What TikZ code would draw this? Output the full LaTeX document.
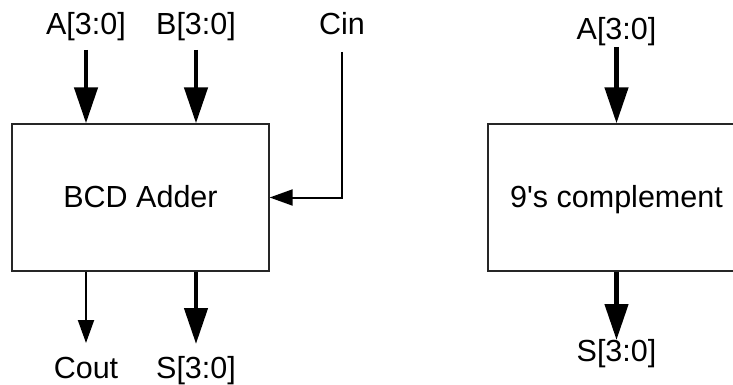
\documentclass[tikz,border=0pt]{standalone}
\usepackage{fontspec}
\setmainfont{Liberation Sans}
\newfontfamily\plainfont{Liberation Sans}
\usetikzlibrary{arrows.meta}
\begin{document}
\begin{tikzpicture}[x=1pt,y=-1pt,
  lbl/.style={inner sep=0pt, font=\plainfont\fontsize{30.5}{34}\selectfont},
  blk/.style={draw=black!85, line width=1.3pt, inner sep=0pt, text height=22pt, text depth=3pt, font=\plainfont\fontsize{30.5}{34}\selectfont},
  bus/.style={line width=4.5pt, -{Triangle[length=36pt,width=23pt]}},
  wire/.style={line width=2pt, -{Triangle[length=23pt,width=16pt]}}]
\useasboundingbox (0,0) rectangle (733,385);
\clip (0,0) rectangle (733,385);
% left block
\node[blk, minimum width=257pt, minimum height=147pt] (bcd) at (140.5,197.5) {BCD Adder};
\node[lbl, anchor=base] (a1) at (86,35) {A[3:0]};
\node[lbl, anchor=base] (b1) at (196,35) {B[3:0]};
\node[lbl, anchor=base] (cin) at (342,35) {Cin};
\node[lbl, anchor=base] (cout) at (86,378) {Cout};
\node[lbl, anchor=base] (s1) at (196,378) {S[3:0]};
\coordinate (a1s) at (86,50);
\coordinate (b1s) at (196,50);
\coordinate (cins) at (342,52);
\coordinate (couts) at (86,343);
\coordinate (s1s) at (196,344);
\draw[bus] (a1s) -- (a1s |- bcd.north);
\draw[bus] (b1s) -- (b1s |- bcd.north);
\draw[wire] (cins) |- (bcd.east);
\draw[wire] (couts |- bcd.south) -- (couts);
\draw[bus] (s1s |- bcd.south) -- (s1s);
% right block
\node[blk, minimum width=257pt, minimum height=147pt] (nine) at (616.5,197.5) {9's complement};
\node[lbl, anchor=base] (a2) at (616.5,40) {A[3:0]};
\node[lbl, anchor=base] (s2) at (616.5,361) {S[3:0]};
\coordinate (a2s) at (616.5,47);
\coordinate (s2s) at (616.5,340);
\draw[bus] (a2s) -- (nine.north);
\draw[bus] (nine.south) -- (s2s);
\end{tikzpicture}
\end{document}
